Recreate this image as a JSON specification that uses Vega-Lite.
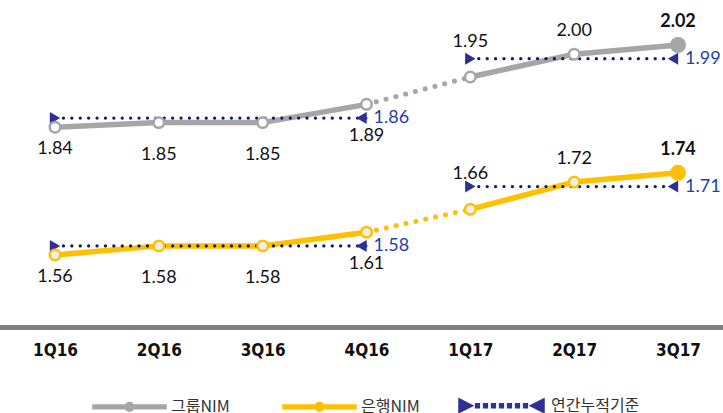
{
  "$schema": "https://vega.github.io/schema/vega-lite/v6.json",
  "width": 723,
  "height": 326,
  "autosize": {"type": "none"},
  "padding": {"left": 0, "top": 0, "right": 0, "bottom": 87},
  "background": "white",
  "config": {"view": {"stroke": null}},
  "datasets": {
    "nim": [
      {"q": "1Q16", "series": "그룹NIM", "v": 1.84, "yr": "2016"},
      {"q": "2Q16", "series": "그룹NIM", "v": 1.85, "yr": "2016"},
      {"q": "3Q16", "series": "그룹NIM", "v": 1.85, "yr": "2016"},
      {"q": "4Q16", "series": "그룹NIM", "v": 1.89, "yr": "2016"},
      {"q": "1Q17", "series": "그룹NIM", "v": 1.95, "yr": "2017"},
      {"q": "2Q17", "series": "그룹NIM", "v": 2.00, "yr": "2017"},
      {"q": "3Q17", "series": "그룹NIM", "v": 2.02, "yr": "2017"},
      {"q": "1Q16", "series": "은행NIM", "v": 1.56, "yr": "2016"},
      {"q": "2Q16", "series": "은행NIM", "v": 1.58, "yr": "2016"},
      {"q": "3Q16", "series": "은행NIM", "v": 1.58, "yr": "2016"},
      {"q": "4Q16", "series": "은행NIM", "v": 1.61, "yr": "2016"},
      {"q": "1Q17", "series": "은행NIM", "v": 1.66, "yr": "2017"},
      {"q": "2Q17", "series": "은행NIM", "v": 1.72, "yr": "2017"},
      {"q": "3Q17", "series": "은행NIM", "v": 1.74, "yr": "2017"}
    ],
    "cum": [
      {"series": "그룹NIM", "start": "1Q16", "end": "4Q16", "v": 1.86},
      {"series": "그룹NIM", "start": "1Q17", "end": "3Q17", "v": 1.99},
      {"series": "은행NIM", "start": "1Q16", "end": "4Q16", "v": 1.58},
      {"series": "은행NIM", "start": "1Q17", "end": "3Q17", "v": 1.71}
    ]
  },
  "encoding": {
    "x": {
      "field": "q", "type": "ordinal",
      "scale": {"type": "point", "domain": ["1Q16", "2Q16", "3Q16", "4Q16", "1Q17", "2Q17", "3Q17"], "range": [55, 678], "padding": 0},
      "axis": {"title": null, "domain": false, "ticks": false, "labelAngle": 0, "labelFont": "Liberation Sans Narrow, DejaVu Sans Condensed", "labelFontSize": 17, "labelFontWeight": "bold", "labelColor": "#111111", "labelPadding": 24, "labelBaseline": "middle"}
    },
    "y": {
      "field": "v", "type": "quantitative",
      "scale": {"domain": [1.4045, 2.1186], "nice": false, "zero": false},
      "axis": null
    }
  },
  "layer": [
    {
      "data": {"values": [{"base": 1.4012}]},
      "mark": {"type": "rule", "color": "#7f7f7f", "strokeWidth": 5},
      "encoding": {"x": null, "y": {"field": "base", "type": "quantitative"}}
    },
    {
      "data": {"name": "nim"},
      "mark": {"type": "line", "strokeWidth": 5.5},
      "encoding": {
        "detail": {"field": "yr"},
        "color": {
          "field": "series", "type": "nominal",
          "scale": {"domain": ["그룹NIM", "은행NIM", "연간누적기준"], "range": ["#a6a6a6", "#ffc000", "#2e3192"]},
          "legend": {
            "orient": "none", "legendX": 84, "legendY": 362, "direction": "horizontal", "title": null,
            "symbolSize": 7056, "labelOffset": 0, "columnPadding": 4, "gridAlign": "all",
            "labelFont": "Noto Sans CJK KR", "labelFontSize": 16, "labelColor": "#333333",
            "encode": {
              "symbols": {
                "update": {
                  "shape": {"signal": "datum.value === '연간누적기준' ? 'M-1.143,-0.143L-0.857,0L-1.143,0.143Z M0.857,-0.143L0.571,0L0.857,0.143Z M-0.747,-0.033h0.066v0.066h-0.066z M-0.557,-0.033h0.066v0.066h-0.066z M-0.366,-0.033h0.066v0.066h-0.066z M-0.176,-0.033h0.066v0.066h-0.066z M0.015,-0.033h0.066v0.066h-0.066z M0.205,-0.033h0.066v0.066h-0.066z M0.396,-0.033h0.066v0.066h-0.066z' : 'M-0.81,-0.03H-0.042V0.03H-0.81Z M0.137,-0.03H0.905V0.03H0.137Z M0.137,0A0.0893,0.0893,0,1,1,-0.042,0A0.0893,0.0893,0,1,1,0.137,0Z'"},
                  "fill": {"signal": "datum.value === '연간누적기준' ? '#232a85' : 'transparent'"},
                  "stroke": {"signal": "datum.value === '그룹NIM' ? '#a6a6a6' : datum.value === '은행NIM' ? '#ffc000' : 'transparent'"},
                  "strokeWidth": {"value": 2.5},
                  "opacity": {"value": 1}
                }
              }
            }
          }
        }
      }
    },
    {
      "data": {"name": "nim"},
      "transform": [{"filter": "datum.q === '4Q16' || datum.q === '1Q17'"}],
      "mark": {"type": "line", "strokeWidth": 5, "strokeDash": [0.1, 10], "strokeCap": "round"},
      "encoding": {"color": {"field": "series", "type": "nominal"}}
    },
    {
      "data": {"name": "cum"},
      "mark": {"type": "rule", "strokeWidth": 3.2, "strokeDash": [0.1, 8.3], "strokeCap": "round", "color": "#0c1b70"},
      "encoding": {
        "x": {"field": "start", "type": "ordinal"},
        "x2": {"field": "end"}
      }
    },
    {
      "data": {"name": "cum"},
      "mark": {"type": "point", "shape": "triangle-right", "size": 144, "filled": true, "opacity": 1, "color": "#2e3192"},
      "encoding": {"x": {"field": "start", "type": "ordinal"}}
    },
    {
      "data": {"name": "cum"},
      "mark": {"type": "point", "shape": "triangle-left", "size": 144, "filled": true, "opacity": 1, "color": "#2e3192"},
      "encoding": {"x": {"field": "end", "type": "ordinal"}, "xOffset": {"value": -5}}
    },
    {
      "data": {"name": "cum"},
      "mark": {"type": "text", "align": "left", "baseline": "middle", "dx": 7, "font": "Lato", "fontSize": 18, "color": "#1f3fb0"},
      "encoding": {"x": {"field": "end", "type": "ordinal"}, "text": {"field": "v", "format": ".2f"}}
    },
    {
      "data": {"name": "nim"},
      "transform": [{"filter": "datum.q !== '3Q17'"}],
      "mark": {"type": "point", "shape": "circle", "size": 110, "strokeWidth": 2.5, "opacity": 1, "filled": false},
      "encoding": {
        "stroke": {"field": "series", "type": "nominal", "scale": {"domain": ["그룹NIM", "은행NIM"], "range": ["#a6a6a6", "#ffc000"]}, "legend": null},
        "fill": {"field": "series", "type": "nominal", "scale": {"domain": ["그룹NIM", "은행NIM"], "range": ["#ffffff", "#eeeeee"]}, "legend": null}
      }
    },
    {
      "data": {"name": "nim"},
      "transform": [{"filter": "datum.q === '3Q17'"}],
      "mark": {"type": "point", "shape": "circle", "size": 256, "filled": true, "opacity": 1},
      "encoding": {"color": {"field": "series", "type": "nominal"}}
    },
    {
      "data": {"name": "nim"},
      "transform": [{"filter": "datum.q === '1Q16'"}],
      "mark": {"type": "text", "baseline": "middle", "dy": 22, "font": "Lato", "fontSize": 18, "color": "#111111"},
      "encoding": {"text": {"field": "v", "format": ".2f"}}
    },
    {
      "data": {"name": "nim"},
      "transform": [{"filter": "datum.q === '2Q16' || datum.q === '3Q16' || datum.q === '4Q16'"}],
      "mark": {"type": "text", "baseline": "middle", "dy": 32, "font": "Lato", "fontSize": 18, "color": "#111111"},
      "encoding": {"text": {"field": "v", "format": ".2f"}}
    },
    {
      "data": {"name": "nim"},
      "transform": [{"filter": "datum.q === '1Q17'"}],
      "mark": {"type": "text", "baseline": "middle", "dy": -35, "font": "Lato", "fontSize": 18, "color": "#111111"},
      "encoding": {"text": {"field": "v", "format": ".2f"}}
    },
    {
      "data": {"name": "nim"},
      "transform": [{"filter": "datum.q === '2Q17'"}],
      "mark": {"type": "text", "baseline": "middle", "dy": -23, "font": "Lato", "fontSize": 18, "color": "#111111"},
      "encoding": {"text": {"field": "v", "format": ".2f"}}
    },
    {
      "data": {"name": "nim"},
      "transform": [{"filter": "datum.q === '3Q17'"}],
      "mark": {"type": "text", "baseline": "middle", "dy": -23, "font": "Lato", "fontSize": 18, "fontWeight": "bold", "color": "#111111"},
      "encoding": {"text": {"field": "v", "format": ".2f"}}
    }
  ]
}
